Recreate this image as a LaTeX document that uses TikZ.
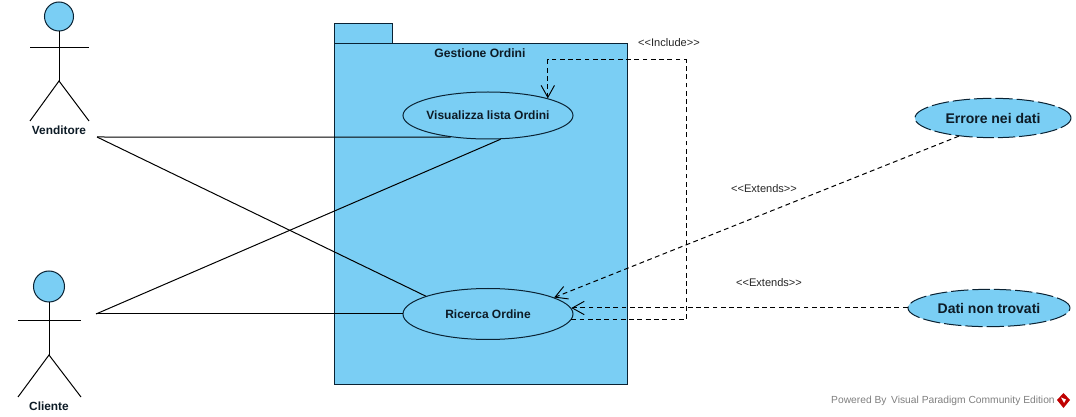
\documentclass[tikz,border=0pt]{standalone}
\usepackage{fontspec}
\setmainfont{Liberation Sans}
\usetikzlibrary{shapes.geometric,arrows.meta}
\definecolor{vpfill}{HTML}{7ACEF4}
\definecolor{vpline}{HTML}{0A2233}
\definecolor{vptext}{HTML}{0D1B26}
\tikzset{
  x=0.75pt,y=-0.75pt,
  usecase/.style={ellipse,draw=vpline,fill=vpfill,line width=0.75pt,inner xsep=-8pt,inner ysep=0pt,font=\bfseries\fontsize{9}{10}\selectfont,text=vptext,minimum width=127.5pt},
  extcase/.style={usecase,dash pattern=on 13pt off 3pt,font=\bfseries\fontsize{10.5}{12}\selectfont},
  assoc/.style={draw=black,line width=0.75pt},
  dep/.style={draw=black,line width=0.75pt,dash pattern=on 3.6pt off 2.6pt,-{Straight Barb[length=9pt,width=10pt,line width=0.7pt]}},
  limb/.style={draw=black,line width=0.75pt},
  head/.style={circle,draw=vpline,fill=vpfill,line width=0.75pt,inner sep=0pt},
  actorlabel/.style={font=\bfseries\fontsize{8.9}{10}\selectfont,text=vptext},
  stereo/.style={font=\fontsize{8.3}{10}\selectfont,text=black!85},
  pkg/.style={draw=vpline,fill=vpfill,line width=0.75pt},
  wm/.style={font=\fontsize{7.7}{9}\selectfont,text=black!50,inner sep=0pt},
}
\begin{document}
\begin{tikzpicture}
\useasboundingbox (0,0) rectangle (1076,417);
\fill[white] (0,0) rectangle (1076,417);
% package
\draw[pkg] (334,24) rectangle (392,44);
\draw[pkg] (334,44) rectangle (627,385);
\node[font=\bfseries\fontsize{9.1}{10}\selectfont,text=vptext] (pkgtitle) at (480,53) {Gestione Ordini};
% use cases
\coordinate (vend) at (97,137);
\coordinate (clie) at (96,314);
\node[usecase,minimum height=35.25pt] (uc1) at (488,115.5) {Visualizza lista Ordini};
\node[usecase,minimum height=38.25pt] (uc2) at (488,314) {Ricerca Ordine};
\node[extcase,minimum width=117pt,minimum height=29.5pt] (err) at (993,118) {Errore nei dati};
\node[extcase,minimum width=121.5pt,minimum height=28pt] (dati) at (989,308) {Dati non trovati};
% associations
\draw[assoc] (vend) -- (uc1.210);
\draw[assoc] (vend) -- (uc2.164);
\draw[assoc] (clie) -- (uc1.298);
\draw[assoc] (clie) -- (uc2.west);
% actors
\node[head,minimum size=21.75pt] (h1) at (59,16.5) {};
\coordinate (b1) at (59,81);
\draw[limb] (h1.south) -- (b1);
\coordinate (a1l) at (30,48); \coordinate (a1r) at (89,48);
\draw[limb] (a1l) -- (a1r);
\coordinate (l1l) at (30,121); \coordinate (l1r) at (89,121);
\draw[limb] (l1l) -- (b1) -- (l1r);
\node[actorlabel] (venditore) at (59,130) {Venditore};
\node[head,minimum size=23.25pt] (h2) at (49,286.5) {};
\coordinate (b2) at (49,355);
\draw[limb] (h2.south) -- (b2);
\coordinate (a2l) at (18,321); \coordinate (a2r) at (81,321);
\draw[limb] (a2l) -- (a2r);
\coordinate (l2l) at (18,397); \coordinate (l2r) at (81,397);
\draw[limb] (l2l) -- (b2) -- (l2r);
\node[actorlabel] (cliente) at (49,406) {Cliente};
% dependencies
\coordinate (incA) at (686,320);
\coordinate (incB) at (686,60);
\coordinate (incS) at (uc2.-4 |- incA);
\coordinate (incC) at (uc1.16 |- incB);
\draw[dep] (incS) -- (incA) -- (incB) -- (incC) -- (uc1.16);
\draw[dep] (err.208) -- (uc2.14);
\coordinate (datT) at (uc2.4 |- dati.west);
\draw[dep] (dati.west) -- (datT);
% labels
\node[stereo] (linc) at (669,43) {{<}{<}Include{>}{>}};
\node[stereo] (lext1) at (764,189) {{<}{<}Extends{>}{>}};
\node[stereo] (lext2) at (769,283) {{<}{<}Extends{>}{>}};
% watermark
\node[wm,anchor=east] (wmark) at (1055,400.5) {Powered By \,Visual Paradigm Community Edition};
\fill[red!75!black] (1063.5,393) -- (1070,400) -- (1063.5,408) -- (1057,400) -- cycle;
\fill[white] (1061,397.5) -- (1066,399.5) -- (1064,403) -- (1063,401) -- cycle;
\end{tikzpicture}
\end{document}
